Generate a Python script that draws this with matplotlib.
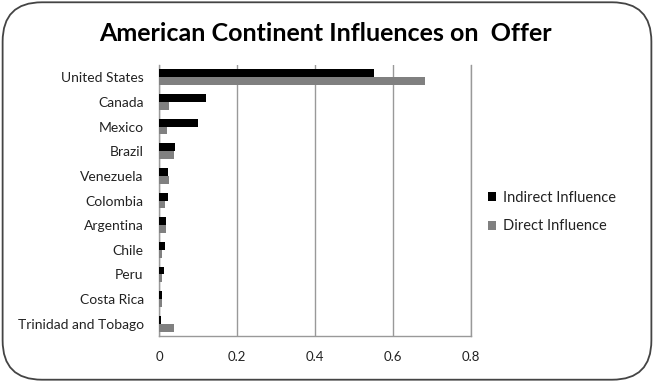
import matplotlib
matplotlib.use("Agg")
import matplotlib.pyplot as plt
from matplotlib.patches import FancyBboxPatch
import numpy as np

countries = ["United States", "Canada", "Mexico", "Brazil", "Venezuela", "Colombia",
             "Argentina", "Chile", "Peru", "Costa Rica", "Trinidad and Tobago"]
indirect = [0.551, 0.120, 0.100, 0.042, 0.022, 0.022, 0.019, 0.015, 0.013, 0.008, 0.006]
direct = [0.682, 0.025, 0.021, 0.039, 0.025, 0.015, 0.019, 0.008, 0.008, 0.007, 0.039]
xticks = [0, 0.2, 0.4, 0.6, 0.8]
xtick_labels = ["0", "0.2", "0.4", "0.6", "0.8"]

plt.rcParams['font.family'] = ['Lato', 'DejaVu Sans']

fig = plt.figure(figsize=(6.54, 3.82), dpi=100)
fig.patch.set_facecolor("white")

# rounded border
border = FancyBboxPatch((0.004, 0.006), 0.992, 0.988,
                        boxstyle="round,pad=0,rounding_size=0.06",
                        transform=fig.transFigure, fill=False,
                        edgecolor="#444444", linewidth=1.3, mutation_aspect=654/382)
fig.patches.append(border)

ax = fig.add_axes([0.2431, 0.1204, 0.4771, 0.7094])
y = np.arange(len(countries))
h = 0.32
ax.barh(y - h/2, indirect, height=h, color="#000000", label="Indirect Influence", zorder=3)
ax.barh(y + h/2, direct, height=h, color="#808080", label="Direct Influence", zorder=3)
ax.set_ylim(len(countries) - 0.5, -0.5)
ax.set_xlim(0, 0.8)
ax.set_yticks(y)
ax.set_yticklabels(countries, fontsize=10, color="#222222")
ax.set_xticks(xticks)
ax.set_xticklabels(xtick_labels, fontsize=9.5, color="#222222")
ax.tick_params(length=0)
ax.tick_params(axis='x', pad=11)
ax.tick_params(axis='y', pad=11)
ax.grid(axis='x', color="#999999", linewidth=1, zorder=0)
ax.spines["top"].set_visible(False)
for s in ["left", "bottom", "right"]:
    ax.spines[s].set_color("#999999")
    ax.spines[s].set_linewidth(1)

fig.text(0.497, 0.913, "American Continent Influences on  Offer", ha="center", va="center",
         fontsize=18, fontweight="bold", color="#000000")

leg = fig.legend(loc="center left", bbox_to_anchor=(0.726, 0.445), frameon=False,
                 fontsize=10.5, handlelength=0.55, handleheight=0.55, handletextpad=0.5,
                 labelspacing=1.0)
for t in leg.get_texts():
    t.set_color("#222222")

fig.savefig("out.png", dpi=100)
